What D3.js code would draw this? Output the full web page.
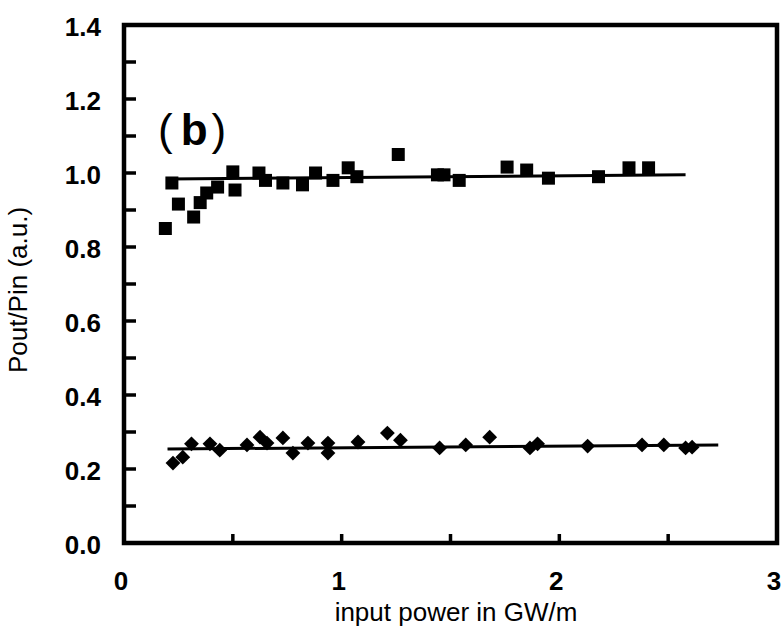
<!DOCTYPE html>
<html><head><meta charset="utf-8">
<script src="https://cdn.jsdelivr.net/npm/d3@7"></script>
<style>body{margin:0;background:#fff}svg{display:block}</style>
</head><body>
<svg id="c" width="784" height="638"></svg>
<script>
// Squares series (upper)
const squareX = [0.19,0.22,0.25,0.32,0.35,0.38,0.43,0.50,0.51,0.62,0.65,0.73,0.82,0.88,0.96,1.03,1.07,1.26,1.44,1.47,1.54,1.76,1.85,1.95,2.18,2.32,2.41];
const squareY = [0.85,0.973,0.916,0.881,0.92,0.946,0.962,1.003,0.954,1.0,0.98,0.973,0.968,1.0,0.98,1.014,0.99,1.05,0.995,0.995,0.98,1.016,1.008,0.986,0.99,1.014,1.014];
// Diamonds series (lower)
const diamondX = [0.225,0.27,0.31,0.395,0.44,0.565,0.625,0.657,0.73,0.776,0.845,0.937,0.937,1.075,1.21,1.27,1.45,1.57,1.68,1.865,1.90,2.13,2.38,2.48,2.58,2.61];
const diamondY = [0.216,0.232,0.268,0.268,0.251,0.265,0.286,0.27,0.284,0.243,0.27,0.27,0.243,0.273,0.297,0.278,0.257,0.265,0.286,0.257,0.268,0.262,0.265,0.265,0.257,0.259];
// Fit lines
const squareFitX = [0.2, 2.58];
const squareFitY = [0.984, 0.995];
const diamondFitX = [0.2, 2.73];
const diamondFitY = [0.254, 0.265];
// Axis ticks
const xTickLabels = [0,1,2,3];
const xMinorTicks = [0.5,1,1.5,2,2.5];
const yTickLabels = [0.0,0.2,0.4,0.6,0.8,1.0,1.2,1.4];
const yMinorTicks = [0.1,0.2,0.3,0.4,0.5,0.6,0.7,0.8,0.9,1.0,1.1,1.2,1.3];
const xTitle = "input power in GW/m";
const yTitle = "Pout/Pin (a.u.)";
const panelLabel = ["(", "b", ")"];

const svg = d3.select("#c");
const L = 124, R = 777, T = 25, B = 543;
const x = d3.scaleLinear().domain([0,3]).range([L,R]);
const y = d3.scaleLinear().domain([0,1.4]).range([B,T]);
const FONT = "Liberation Sans, Arial, Helvetica, sans-serif";

// ticks inward
svg.append("g").selectAll("line").data(yMinorTicks).join("line")
  .attr("x1", L).attr("x2", L+12).attr("y1", d=>y(d)).attr("y2", d=>y(d))
  .attr("stroke","#000").attr("stroke-width",3.5);
svg.append("g").selectAll("line").data(xMinorTicks).join("line")
  .attr("x1", d=>x(d)).attr("x2", d=>x(d)).attr("y1", B).attr("y2", B-9)
  .attr("stroke","#000").attr("stroke-width",3.5);

// frame
svg.append("path")
  .attr("d", `M${L},${B}H${R}V${T}H${L}Z`)
  .attr("fill","none").attr("stroke","#000").attr("stroke-width",4.5)
  .attr("stroke-linejoin","miter");

// tick labels
svg.append("g").selectAll("text").data(yTickLabels).join("text")
  .attr("x", 101).attr("y", d=>y(d)+11)
  .attr("text-anchor","end")
  .attr("font-family",FONT)
  .attr("font-weight","bold").attr("font-size",26)
  .text(d=>d.toFixed(1));
svg.append("g").selectAll("text").data(xTickLabels).join("text")
  .attr("x", d=>x(d)-3).attr("y", 590)
  .attr("text-anchor","middle")
  .attr("font-family",FONT)
  .attr("font-weight","bold").attr("font-size",26)
  .text(d=>d);

// titles
svg.append("text").attr("x", 456).attr("y", 621)
  .attr("text-anchor","middle")
  .attr("font-family",FONT).attr("font-size",26)
  .text(xTitle);
svg.append("text").attr("transform","translate(27,290) rotate(-90)")
  .attr("text-anchor","middle")
  .attr("font-family",FONT).attr("font-size",26)
  .text(yTitle);
const pl = svg.append("text").attr("x", 158).attr("y", 145)
  .attr("font-family",FONT).attr("font-size",44);
pl.append("tspan").attr("font-weight","normal").text(panelLabel[0]);
pl.append("tspan").attr("dx",8).attr("font-weight","bold").text(panelLabel[1]);
pl.append("tspan").attr("dx",4).attr("font-weight","normal").text(panelLabel[2]);

// fit lines
const line = d3.line().x(d=>x(d[0])).y(d=>y(d[1]));
svg.append("path").attr("d", line(d3.zip(squareFitX, squareFitY)))
  .attr("stroke","#000").attr("stroke-width",3).attr("fill","none");
svg.append("path").attr("d", line(d3.zip(diamondFitX, diamondFitY)))
  .attr("stroke","#000").attr("stroke-width",3).attr("fill","none");

// squares
const s = 13;
svg.append("g").selectAll("rect").data(d3.zip(squareX, squareY)).join("rect")
  .attr("x", d=>x(d[0])-s/2).attr("y", d=>y(d[1])-s/2)
  .attr("width", s).attr("height", s).attr("fill","#000");

// diamonds
svg.append("g").selectAll("path").data(d3.zip(diamondX, diamondY)).join("path")
  .attr("transform", d=>`translate(${x(d[0])},${y(d[1])}) rotate(45)`)
  .attr("d", d3.symbol().type(d3.symbolSquare).size(110)).attr("fill","#000");
</script>
</body></html>
